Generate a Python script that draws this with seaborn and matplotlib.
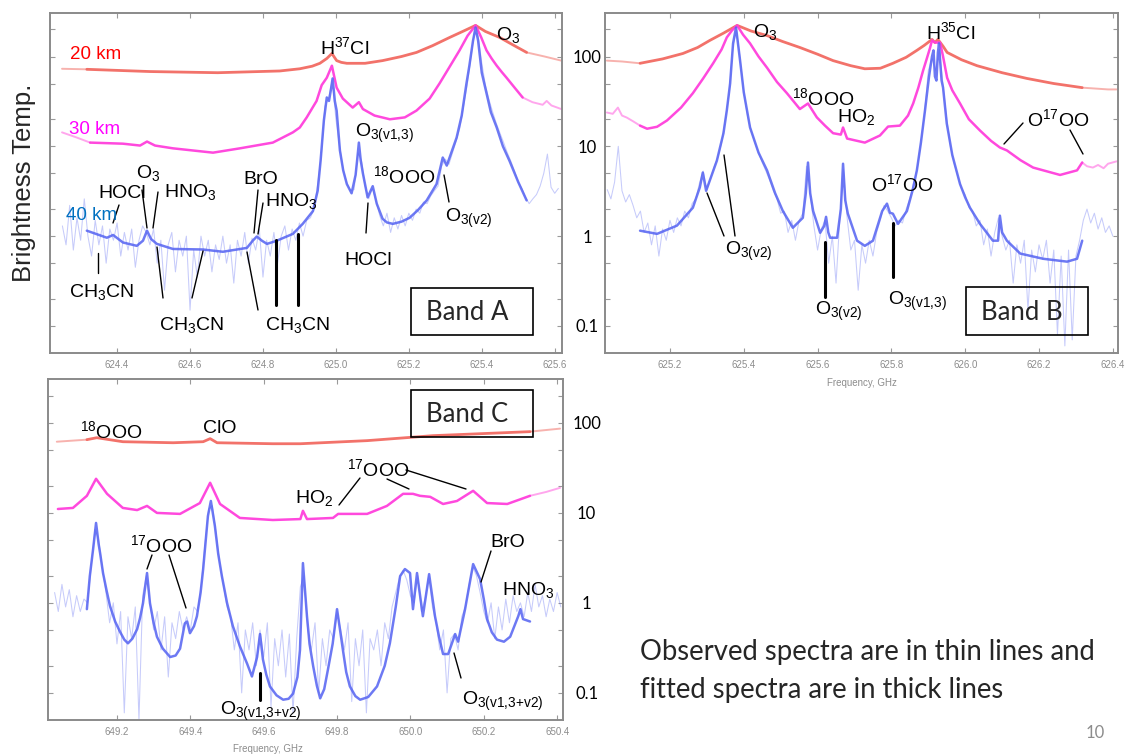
import numpy as np
import pandas as pd
import matplotlib
matplotlib.use("Agg")
import matplotlib.pyplot as plt
import seaborn as sns
from matplotlib.lines import Line2D
from matplotlib.patches import Rectangle
from matplotlib.ticker import FixedLocator, NullFormatter

sns.set_theme(style="white")
plt.rcParams["font.family"] = ["Liberation Sans", "DejaVu Sans"]
plt.rcParams["mathtext.fontset"] = "custom"
plt.rcParams["mathtext.rm"] = "Liberation Sans"
plt.rcParams["mathtext.it"] = "Liberation Sans:italic"
plt.rcParams["mathtext.bf"] = "Liberation Sans:bold"
plt.rcParams["mathtext.sf"] = "Liberation Sans"

# ============================ DATA ============================
# ---------- Band A (624.2 - 625.6 GHz) ----------
A_red_f = [624.317, 624.490, 624.676, 624.846, 624.901, 624.935, 624.956, 624.975, 624.989, 625.002,
           625.015, 625.030, 625.080, 625.128, 625.180, 625.221, 625.265, 625.312, 625.350, 625.383,
           625.410, 625.449, 625.485, 625.523]
A_red_T = [72, 68, 66, 69, 73, 78, 84, 95, 108, 90,
           86, 84, 84, 90, 100, 111, 132, 163, 192, 222,
           190, 163, 135, 111]
A_red_thin_f = [624.249, 624.317, 625.523, 625.572, 625.618]
A_red_thin_T = [73, 72, 111, 100, 90]
A_red_thin_seg = [0, 0, 1, 1, 1]

A_mag_f = [624.326, 624.416, 624.463, 624.482, 624.504, 624.553, 624.663, 624.737, 624.827, 624.882,
           624.901, 624.920, 624.947, 624.961, 624.975, 624.989, 625.002, 625.019, 625.046, 625.063,
           625.074, 625.106, 625.148, 625.189, 625.221, 625.257, 625.284, 625.312, 625.339, 625.361,
           625.383, 625.398, 625.413, 625.427, 625.441, 625.455, 625.468, 625.490, 625.512]
A_mag_T = [11.0, 10.7, 10.2, 11.3, 10.2, 9.5, 8.5, 9.5, 11.0, 14.3,
           16.2, 21, 32, 48, 58, 79, 45, 34, 27, 31,
           26, 22, 20, 21, 25, 34, 50, 77, 117, 170,
           222, 165, 117, 95, 79, 67, 58, 45, 35]
A_mag_thin_f = [624.249, 624.290, 624.326, 625.512, 625.539, 625.567, 625.578, 625.591, 625.618]
A_mag_thin_T = [14.3, 12.5, 11.0, 35, 31, 29, 32, 28.5, 26]
A_mag_thin_seg = [0, 0, 0, 1, 1, 1, 1, 1, 1]

A_blu_f = [624.317, 624.372, 624.389, 624.416, 624.454, 624.471, 624.482, 624.493, 624.509, 624.553,
           624.635, 624.690, 624.756, 624.772, 624.783, 624.797, 624.811, 624.827, 624.838, 624.882,
           624.909, 624.937, 624.950, 624.958, 624.967, 624.975, 624.981, 624.986, 624.991, 624.997,
           625.002, 625.011, 625.020, 625.030, 625.043, 625.054, 625.059, 625.063, 625.068, 625.074,
           625.087, 625.101, 625.112, 625.128, 625.140, 625.156, 625.180, 625.202, 625.225, 625.249,
           625.276, 625.293, 625.304, 625.331, 625.345, 625.358, 625.366, 625.376, 625.383, 625.390,
           625.400, 625.413, 625.425, 625.441, 625.458, 625.476, 625.500, 625.523]
A_blu_T = [1.15, 0.96, 1.03, 0.85, 0.78, 0.89, 1.15, 0.93, 0.82, 0.72,
           0.71, 0.67, 0.74, 0.89, 0.99, 0.89, 0.82, 0.86, 0.89, 1.06,
           1.37, 1.9, 3.2, 6.9, 19.4, 35, 32, 42, 57, 32,
           25, 9.0, 5.4, 3.8, 3.0, 4.8, 7.5, 11, 7.0, 5.0,
           2.7, 3.6, 2.3, 1.56, 1.42, 1.37, 1.45, 1.6, 1.95, 2.5,
           3.8, 7.5, 6.1, 12.5, 22, 50, 79, 150, 210, 150,
           66, 39, 24, 16.2, 10, 6.9, 4.0, 2.5]
# observed 40 km spectrum, channels every 0.01 GHz from 624.25 to 625.61
A_obs_T = [1.3, 0.8, 2.2, 0.7, 1.6, 0.9, 2.6, 1.0, 0.6, 1.5,
           0.8, 1.3, 0.5, 1.2, 0.9, 1.4, 0.6, 1.1, 0.7, 1.2,
           0.45, 0.9, 1.3, 1.1, 0.8, 1.2, 0.5, 0.9, 0.25, 0.8,
           1.1, 0.4, 0.9, 0.6, 1.0, 0.15, 0.7, 0.35, 1.0, 0.6,
           0.9, 0.4, 0.8, 0.55, 1.0, 0.5, 0.8, 0.3, 0.9, 0.6,
           1.1, 0.5, 0.95, 0.7, 1.2, 0.35, 0.9, 0.6, 1.1, 0.5,
           1.0, 1.3, 0.7, 1.2, 0.9, 1.4, 1.0, 1.5, 1.6, 2.0,
           3.8, 8.0, 28, 34, 55, 20, 10, 5.5, 3.9, 3.2,
           3.3, 8.5, 7.0, 3.6, 2.6, 3.4, 2.5, 1.7, 1.3, 1.8,
           1.1, 1.6, 1.2, 1.7, 1.3, 1.8, 1.5, 2.0, 1.8, 2.4,
           2.3, 2.8, 3.2, 3.6, 6.0, 7.2, 6.3, 8.5, 11.5, 16,
           28, 48, 95, 190, 170, 85, 48, 33, 24, 18,
           14, 11, 8.5, 6.8, 5.3, 4.0, 3.4, 2.7, 2.3, 2.6,
           2.9, 3.6, 5.0, 8.2, 3.5, 3.0, 3.4]
A_obs_f = np.linspace(624.25, 625.61, len(A_obs_T))
A_xticks = [624.4, 624.6, 624.8, 625.0, 625.2, 625.4, 625.6]

# ---------- Band B (625.0 - 626.4 GHz) ----------
B_red_f = [625.119, 625.180, 625.235, 625.275, 625.308, 625.345, 625.382, 625.420, 625.463, 625.505,
           625.552, 625.600, 625.642, 625.690, 625.728, 625.770, 625.804, 625.840, 625.869, 625.889,
           625.899, 625.910, 625.918, 625.926, 625.940, 625.951, 625.990, 626.032, 626.100, 626.167,
           626.240, 626.317]
B_red_T = [84, 94, 108, 126, 151, 182, 222, 192, 171, 147,
           126, 106, 90, 79, 73, 74, 84, 98, 117, 133,
           143, 155, 143, 155, 130, 111, 92, 79, 66, 57,
           50, 45]
B_red_thin_f = [625.029, 625.070, 625.119, 626.317, 626.387, 626.410]
B_red_thin_T = [90, 88, 84, 45, 43, 43]
B_red_thin_seg = [0, 0, 0, 1, 1, 1]

B_mag_f = [625.119, 625.138, 625.165, 625.192, 625.230, 625.262, 625.290, 625.317, 625.340, 625.354,
           625.368, 625.382, 625.398, 625.417, 625.440, 625.463, 625.490, 625.517, 625.552, 625.574,
           625.598, 625.620, 625.642, 625.663, 625.669, 625.680, 625.728, 625.769, 625.791, 625.823,
           625.845, 625.859, 625.873, 625.886, 625.896, 625.905, 625.910, 625.918, 625.932, 625.940,
           625.951, 625.965, 625.986, 626.010, 626.040, 626.070, 626.094, 626.113, 626.150, 626.184,
           626.257, 626.303, 626.317]
B_mag_T = [17, 15.7, 16.5, 19.4, 27, 39, 57, 84, 120, 163,
           195, 222, 175, 140, 100, 75, 52, 39, 26, 30,
           21, 17, 14, 13.5, 16.2, 12.2, 11, 13.2, 16.6, 17,
           22, 30, 45, 70, 95, 126, 151, 143, 143, 100,
           58, 42, 30, 20, 15, 11.5, 9.7, 9.0, 7.0, 5.8,
           4.8, 5.4, 6.6]
B_mag_thin_f = [625.029, 625.045, 625.059, 625.070, 625.083, 625.100, 625.119,
                626.317, 626.330, 626.346, 626.360, 626.375, 626.387, 626.410]
B_mag_thin_T = [23.8, 23, 27, 22, 20.9, 19, 17, 6.6, 6.0, 5.8, 6.2, 5.7, 6.4, 6.8]
B_mag_thin_seg = [0, 0, 0, 0, 0, 0, 0, 1, 1, 1, 1, 1, 1, 1]

B_blu_f = [625.119, 625.165, 625.219, 625.262, 625.281, 625.289, 625.298, 625.327, 625.345, 625.354,
           625.363, 625.371, 625.379, 625.390, 625.400, 625.417, 625.440, 625.463, 625.485, 625.506,
           625.533, 625.560, 625.568, 625.574, 625.580, 625.588, 625.607, 625.618, 625.623, 625.629,
           625.634, 625.653, 625.663, 625.669, 625.675, 625.682, 625.707, 625.728, 625.750, 625.775,
           625.788, 625.796, 625.804, 625.818, 625.842, 625.858, 625.869, 625.880, 625.891, 625.902,
           625.910, 625.914, 625.918, 625.922, 625.926, 625.929, 625.932, 625.936, 625.940, 625.950,
           625.965, 625.986, 626.000, 626.013, 626.040, 626.075, 626.089, 626.094, 626.100, 626.113,
           626.149, 626.211, 626.276, 626.303, 626.317]
B_blu_T = [1.15, 1.06, 1.31, 2.07, 3.5, 5.1, 3.2, 6.9, 14, 25,
           50, 140, 210, 90, 40, 16.2, 8.5, 5.4, 3.0, 1.9,
           1.24, 1.6, 3.0, 6.6, 3.0, 1.9, 1.09, 1.3, 1.64, 1.1,
           0.96, 0.96, 2.0, 6.4, 2.5, 1.78, 0.89, 0.78, 0.89, 1.9,
           2.3, 1.82, 1.78, 1.37, 1.9, 3.3, 5.4, 11, 25, 60,
           100, 117, 60, 54, 110, 140, 90, 54, 45, 18,
           8, 3.8, 2.7, 2.07, 1.37, 0.89, 0.89, 1.69, 1.1, 0.89,
           0.64, 0.56, 0.52, 0.56, 0.89]
# observed 40 km spectrum, channels every 0.01 GHz from 625.03 to 626.40
B_obs_T = [3.3, 2.6, 4.0, 10.0, 3.2, 2.4, 2.9, 2.2, 1.6, 1.9,
           1.1, 1.4, 0.8, 1.3, 0.6, 1.2, 0.9, 1.5, 1.1, 1.6,
           1.3, 1.9, 1.6, 2.3, 2.6, 3.9, 5.3, 3.3, 4.4, 6.0,
           7.6, 11, 20, 38, 120, 200, 95, 40, 22, 15,
           11, 8.5, 6.6, 5.3, 4.2, 3.2, 2.6, 1.8, 1.9, 1.1,
           1.5, 0.9, 1.5, 1.8, 6.0, 3.0, 1.3, 0.7, 1.2, 1.5,
           0.5, 1.0, 0.3, 1.5, 5.5, 1.6, 0.7, 0.9, 0.25, 0.8,
           0.5, 0.9, 0.6, 1.1, 1.5, 2.2, 1.9, 1.6, 1.3, 1.5,
           1.4, 2.0, 2.6, 3.9, 5.6, 11, 24, 70, 95, 70,
           120, 48, 20, 10, 6.5, 4.6, 3.4, 2.9, 2.1, 1.9,
           1.3, 1.5, 0.8, 1.2, 0.6, 1.1, 1.6, 1.0, 0.7, 0.9,
           0.3, 0.8, 0.5, 0.9, 0.15, 0.7, 0.4, 0.8, 0.55, 0.9,
           0.3, 0.7, 0.08, 0.6, 0.06, 0.7, 0.07, 0.6, 0.9, 1.5,
           2.0, 1.4, 1.8, 1.2, 1.6, 1.1, 1.3, 1.0]
B_obs_f = np.linspace(625.03, 626.40, len(B_obs_T))
B_xticks = [625.2, 625.4, 625.6, 625.8, 626.0, 626.2, 626.4]

# ---------- Band C (649.0 - 650.4 GHz) ----------
C_red_f = [649.118, 649.145, 649.216, 649.353, 649.435, 649.454, 649.473, 649.625, 649.700, 649.882,
           650.062, 650.326]
C_red_T = [64.7, 68, 61.4, 59.8, 61.4, 66.4, 59.8, 58.3, 58.3, 63.1, 71.7, 79.4]
C_red_thin_f = [649.036, 649.118, 650.326, 650.408]
C_red_thin_T = [61.4, 64.7, 79.4, 85.8]
C_red_thin_seg = [0, 0, 1, 1]

C_mag_f = [649.039, 649.080, 649.118, 649.143, 649.173, 649.216, 649.255, 649.282, 649.309, 649.372,
           649.426, 649.454, 649.481, 649.535, 649.625, 649.700, 649.707, 649.718, 649.789, 649.803,
           649.882, 649.936, 649.980, 650.007, 650.026, 650.054, 650.089, 650.127, 650.171, 650.209,
           650.264, 650.326]
C_mag_T = [11.0, 11.3, 15.4, 23.8, 16.2, 11.3, 10.7, 11.9, 9.95, 9.7,
           12.8, 21.5, 12.5, 8.75, 8.3, 8.5, 10.5, 8.5, 8.75, 9.7,
           9.7, 11.9, 16.2, 16.2, 15.4, 15.0, 12.5, 13.5, 17.5, 12.8,
           12.5, 15.4]
C_mag_thin_f = [650.326, 650.370, 650.408]
C_mag_thin_T = [15.4, 17.0, 18.9]
C_mag_thin_seg = [0, 0, 0]

C_blu_f = [649.118, 649.126, 649.135, 649.143, 649.150, 649.154, 649.162, 649.172, 649.181, 649.195,
           649.208, 649.220, 649.230, 649.242, 649.255, 649.263, 649.271, 649.282, 649.290, 649.300,
           649.309, 649.325, 649.345, 649.360, 649.372, 649.385, 649.391, 649.399, 649.410, 649.418,
           649.428, 649.435, 649.448, 649.456, 649.467, 649.476, 649.486, 649.500, 649.516, 649.535,
           649.555, 649.568, 649.582, 649.590, 649.598, 649.607, 649.617, 649.635, 649.653, 649.668,
           649.680, 649.692, 649.699, 649.707, 649.718, 649.725, 649.735, 649.745, 649.754, 649.765,
           649.775, 649.788, 649.800, 649.816, 649.825, 649.835, 649.850, 649.863, 649.885, 649.909,
           649.930, 649.944, 649.960, 649.972, 649.985, 649.999, 650.007, 650.018, 650.034, 650.051,
           650.067, 650.078, 650.089, 650.103, 650.122, 650.130, 650.149, 650.171, 650.190, 650.200,
           650.209, 650.222, 650.236, 650.255, 650.272, 650.294, 650.300, 650.307, 650.326]
C_blu_T = [0.85, 1.98, 3.95, 7.7, 4.5, 3.57, 2.14, 1.35, 0.92, 0.62,
           0.48, 0.39, 0.355, 0.40, 0.51, 0.68, 0.99, 2.14, 0.99, 0.60,
           0.42, 0.31, 0.25, 0.26, 0.31, 0.59, 0.62, 0.46, 0.55, 0.71,
           1.3, 2.37, 9.2, 13.5, 7.1, 3.5, 1.98, 1.0, 0.55, 0.33,
           0.21, 0.152, 0.25, 0.45, 0.235, 0.16, 0.118, 0.094, 0.084, 0.086,
           0.098, 0.15, 0.30, 2.76, 0.71, 0.35, 0.197, 0.12, 0.087, 0.11,
           0.18, 0.35, 0.85, 0.30, 0.17, 0.118, 0.092, 0.084, 0.09, 0.118,
           0.2, 0.355, 0.9, 1.98, 2.37, 2.14, 0.85, 2.14, 0.71, 2.08,
           0.71, 0.42, 0.27, 0.27, 0.45, 0.37, 0.85, 2.69, 1.83, 1.1,
           0.66, 0.47, 0.39, 0.37, 0.42, 0.71, 0.85, 0.66, 0.62]
# observed 40 km spectrum, channels every 0.01 GHz from 649.03 to 650.41
C_obs_T = [1.3, 0.8, 1.6, 0.9, 1.4, 0.7, 1.2, 0.8, 1.1, 1.0,
           2.6, 6.5, 5.0, 2.5, 1.3, 0.6, 1.0, 0.35, 0.8, 0.06,
           0.7, 0.4, 0.9, 0.05, 1.2, 2.0, 1.0, 0.5, 0.8, 0.3,
           0.7, 0.15, 0.6, 0.4, 0.8, 0.5, 0.7, 0.5, 0.9, 0.8,
           1.6, 4.5, 11, 12, 6.0, 2.8, 1.6, 0.9, 0.7, 0.3,
           0.6, 0.1, 0.5, 0.3, 0.6, 0.2, 0.5, 0.25, 0.6, 0.07,
           0.4, 0.2, 0.5, 0.15, 0.45, 0.06, 0.4, 1.5, 2.0, 0.5,
           0.3, 0.6, 0.1, 0.4, 0.2, 0.5, 0.4, 0.8, 0.5, 0.3,
           0.6, 0.08, 0.4, 0.2, 0.5, 0.06, 0.4, 0.3, 0.5, 0.2,
           0.6, 0.4, 0.9, 1.3, 1.9, 2.3, 1.8, 1.2, 1.0, 2.0,
           0.8, 1.1, 2.0, 0.9, 0.6, 0.3, 0.5, 0.1, 0.4, 0.45,
           0.3, 0.7, 0.9, 1.6, 2.5, 2.0, 1.3, 0.8, 0.6, 1.0,
           0.4, 0.9, 0.5, 1.1, 0.6, 1.2, 0.8, 1.0, 0.7, 1.3,
           0.8, 1.6, 0.9, 1.2, 0.7, 1.1, 0.8, 1.3, 0.9]
C_obs_f = np.linspace(649.03, 650.41, len(C_obs_T))
C_xticks = [649.2, 649.4, 649.6, 649.8, 650.0, 650.2, 650.4]

Y_MAJOR = [0.1, 1, 10, 100]
Y_MAJOR_LABELS = ["0.1", "1", "10", "100"]
Y_MINOR = [0.2, 0.5, 2, 5, 20, 50, 200]

# ============================ FIGURE ============================
W, H = 1126, 756
fig = plt.figure(figsize=(W / 100, H / 100), dpi=100)
fig.patch.set_facecolor("white")


def rect(l, t, r, b):
    return [l / W, 1 - b / H, (r - l) / W, (b - t) / H]


def P(x, y):
    return x / W, 1 - y / H


axA = fig.add_axes(rect(50, 13, 562, 353))
axB = fig.add_axes(rect(605, 13, 1118, 353))
axC = fig.add_axes(rect(48, 379, 563, 720))

RED, RED_T = "#F26A62", "#F7AAA5"
MAG, MAG_T = "#FF3FDC", "#FF9DEB"
BLU = "#5462F2"


def line(ax, f, T, color, lw, alpha=1.0, seg=None):
    df = pd.DataFrame({"f": f, "T": T})
    kw = dict(data=df, x="f", y="T", estimator=None, sort=False, ax=ax,
              color=color, lw=lw, alpha=alpha, legend=False)
    if seg is not None:
        df["seg"] = seg
        kw["units"] = "seg"
    sns.lineplot(**kw)


def panel(ax, obs, red_thin, mag_thin, red, mag, blu):
    line(ax, obs[0], obs[1], BLU, 0.75, 0.33)
    line(ax, red_thin[0], red_thin[1], RED_T, 1.4, 0.9, seg=red_thin[2])
    line(ax, mag_thin[0], mag_thin[1], MAG_T, 1.4, 0.9, seg=mag_thin[2])
    line(ax, red[0], red[1], RED, 2.0, 0.95)
    line(ax, mag[0], mag[1], MAG, 1.8, 0.95)
    line(ax, blu[0], blu[1], BLU, 1.8, 0.85)


panel(axA, (A_obs_f, A_obs_T), (A_red_thin_f, A_red_thin_T, A_red_thin_seg),
      (A_mag_thin_f, A_mag_thin_T, A_mag_thin_seg),
      (A_red_f, A_red_T), (A_mag_f, A_mag_T), (A_blu_f, A_blu_T))
panel(axB, (B_obs_f, B_obs_T), (B_red_thin_f, B_red_thin_T, B_red_thin_seg),
      (B_mag_thin_f, B_mag_thin_T, B_mag_thin_seg),
      (B_red_f, B_red_T), (B_mag_f, B_mag_T), (B_blu_f, B_blu_T))
panel(axC, (C_obs_f, C_obs_T), (C_red_thin_f, C_red_thin_T, C_red_thin_seg),
      (C_mag_thin_f, C_mag_thin_T, C_mag_thin_seg),
      (C_red_f, C_red_T), (C_mag_f, C_mag_T), (C_blu_f, C_blu_T))


def style(ax, xlim, xticks, side):
    ax.set_yscale("log")
    ax.set_xlim(*xlim)
    ax.set_ylim(0.05, 305)
    ax.set_xlabel("")
    ax.set_ylabel("")
    ax.set_facecolor("white")
    ax.set_xticks(xticks, labels=[f"{v:.1f}" for v in xticks], fontsize=7, color="#8c8c8c")
    ax.yaxis.set_minor_locator(FixedLocator(Y_MINOR))
    ax.yaxis.set_minor_formatter(NullFormatter())
    if side == "none":
        ax.set_yticks(Y_MAJOR, labels=[""] * 4)
        ax.tick_params(axis="y", labelleft=False)
    else:
        ax.set_yticks(Y_MAJOR, labels=Y_MAJOR_LABELS, fontsize=12, fontfamily=["Lato", "DejaVu Sans"],
                      color="black", ha="center")
        if side == "left":
            ax.tick_params(axis="y", which="major", pad=13, labelleft=True, labelright=False)
        else:
            ax.tick_params(axis="y", which="major", pad=17, labelleft=False, labelright=True)
    ax.tick_params(axis="x", which="major", pad=5)
    ax.tick_params(which="both", direction="in", top=True, right=True, bottom=True, left=True,
                   length=3.5, width=0.8, color="#9a9a9a")
    for s in ax.spines.values():
        s.set_color("#8a8a8a")
        s.set_linewidth(1.4)


style(axA, (624.216, 625.62), A_xticks, "none")
style(axB, (625.024, 626.414), B_xticks, "left")
style(axC, (649.012, 650.416), C_xticks, "right")

# ============================ ANNOTATIONS ============================
FS = 14
labels = [
    # Band A
    (320, 54, r"H$^{37}$Cl"),
    (496, 40, r"O$_3$"),
    (355, 137, r"O$_{\mathrm{3(v1{,}3)}}$"),
    (373, 183, r"$^{18}$OOO"),
    (344, 265, "HOCl"),
    (445, 222, r"O$_{\mathrm{3(v2)}}$"),
    (98, 198, "HOCl"),
    (136, 178, r"O$_3$"),
    (164, 197, r"HNO$_3$"),
    (69, 297, r"CH$_3$CN"),
    (159, 330, r"CH$_3$CN"),
    (243, 184, "BrO"),
    (265, 206, r"HNO$_3$"),
    (265, 330, r"CH$_3$CN"),
    # Band B
    (753, 37, r"O$_3$"),
    (926, 39, r"H$^{35}$Cl"),
    (792, 105, r"$^{18}$OOO"),
    (837, 122, r"HO$_2$"),
    (1027, 126, r"O$^{17}$OO"),
    (871, 191, r"O$^{17}$OO"),
    (725, 255, r"O$_{\mathrm{3(v2)}}$"),
    (815, 315, r"O$_{\mathrm{3(v2)}}$"),
    (888, 305, r"O$_{\mathrm{3(v1{,}3)}}$"),
    # Band C
    (80, 438, r"$^{18}$OOO"),
    (203, 433, "ClO"),
    (347, 476, r"$^{17}$OOO"),
    (295, 503, r"HO$_2$"),
    (130, 552, r"$^{17}$OOO"),
    (490, 547, "BrO"),
    (502, 595, r"HNO$_3$"),
    (220, 715, r"O$_{\mathrm{3(v1{,}3{+}v2)}}$"),
    (462, 705, r"O$_{\mathrm{3(v1{,}3{+}v2)}}$"),
]
for x, y, s in labels:
    fig.text(*P(x, y), s, fontsize=FS, ha="left", va="baseline", color="black")

thin_leaders = [
    ((113, 223), (119, 205)), ((142, 190), (147, 228)), ((158, 192), (153, 228)),
    ((98, 253), (98, 273)), ((163, 298), (157, 247)), ((192, 298), (203, 251)),
    ((258, 190), (254, 233)), ((263, 203), (258, 234)), ((258, 310), (247, 252)),
    ((366, 233), (368, 203)), ((449, 202), (444, 175)),
    ((724, 236), (707, 193)), ((735, 236), (724, 155)),
    ((1023, 123), (1004, 144)), ((1070, 130), (1083, 154)),
    ((152, 555), (147, 569)), ((169, 555), (186, 608)),
    ((360, 478), (339, 505)), ((387, 479), (409, 489)), ((406, 470), (466, 489)),
    ((491, 551), (481, 582)), ((461, 678), (454, 653)),
]
thick_leaders = [
    ((276, 240), (276, 305)), ((298, 234), (298, 305)),
    ((825, 242), (825, 297)), ((893, 223), (893, 277)),
    ((260, 673), (260, 700)),
]
for (x1, y1), (x2, y2) in thin_leaders:
    fig.add_artist(Line2D([x1 / W, x2 / W], [1 - y1 / H, 1 - y2 / H],
                          transform=fig.transFigure, color="black", lw=1.0))
for (x1, y1), (x2, y2) in thick_leaders:
    fig.add_artist(Line2D([x1 / W, x2 / W], [1 - y1 / H, 1 - y2 / H],
                          transform=fig.transFigure, color="black", lw=2.2))

# altitude labels
fig.text(*P(70, 59), "20 km", color="#FF0000", fontsize=13.5, va="baseline")
fig.text(*P(69, 134), "30 km", color="#FF00FF", fontsize=13.5, va="baseline")
fig.text(*P(66, 220), "40 km", color="#0070C0", fontsize=13.5, va="baseline")

# band boxes
for (l, t, r, b, s) in [(411, 288, 533, 335, "Band A"), (966, 287, 1088, 335, "Band B"),
                        (411, 390, 533, 437, "Band C")]:
    fig.add_artist(Rectangle(P(l, b), (r - l) / W, (b - t) / H, transform=fig.transFigure,
                             fill=False, ec="black", lw=1.2))
    fig.text(*P((l + r) / 2 - 5, (t + b) / 2 + 1), s, fontsize=18.5, ha="center", va="center",
             family=["Lato", "DejaVu Sans"])

# axis titles
fig.text(*P(24, 183), "Brightness Temp.", rotation=90, fontsize=18.5, ha="center", va="center")
fig.text(*P(862, 383), "Frequency, GHz", fontsize=7, color="#8c8c8c", ha="center", va="center")
fig.text(*P(268, 749), "Frequency, GHz", fontsize=7, color="#8c8c8c", ha="center", va="center")

# slide notes
fig.text(*P(640, 660), "Observed spectra are in thin lines and", fontsize=19.8, ha="left",
         va="baseline", family=["Lato", "DejaVu Sans"])
fig.text(*P(640, 698), "fitted spectra are in thick lines", fontsize=19.8, ha="left",
         va="baseline", family=["Lato", "DejaVu Sans"])
fig.text(*P(1095, 733), "10", fontsize=12, color="#8c8c8c", ha="center", va="center",
         family=["Lato", "DejaVu Sans"])

fig.savefig("out.png", dpi=100, facecolor="white")
